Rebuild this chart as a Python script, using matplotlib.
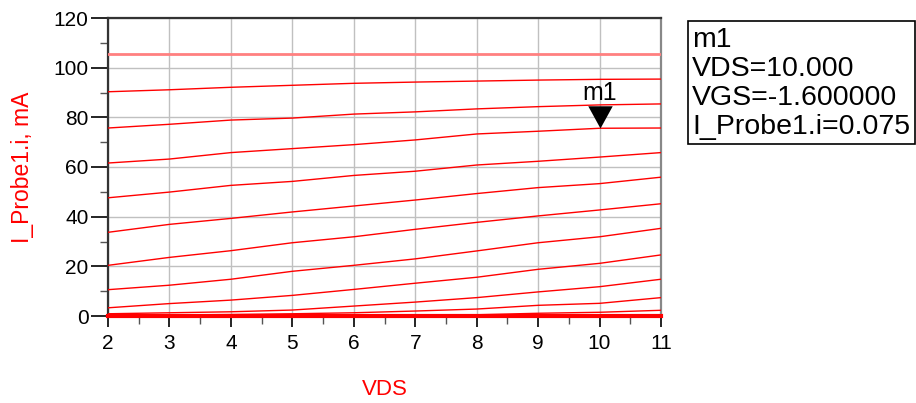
import matplotlib
matplotlib.use("Agg")
import matplotlib.pyplot as plt
from matplotlib.path import Path
import numpy as np

plt.rcParams['font.family'] = ['Liberation Sans', 'DejaVu Sans']

# ---- data (mA) ----
vds = [2, 3, 4, 5, 6, 7, 8, 9, 10, 11]
top_curve = [105.5, 105.5, 105.5, 105.5, 105.5, 105.5, 105.5, 105.5, 105.5, 105.5]
c1 = [90.3, 91.1, 92.1, 92.9, 93.7, 94.2, 94.6, 95.0, 95.3, 95.4]
c2 = [75.7, 77.2, 78.9, 79.7, 81.3, 82.2, 83.4, 84.3, 85.0, 85.4]
c3 = [61.6, 63.2, 65.8, 67.4, 69.0, 70.9, 73.3, 74.4, 75.6, 75.7]
c4 = [47.6, 49.9, 52.6, 54.2, 56.6, 58.3, 60.8, 62.3, 64.0, 65.8]
c5 = [33.7, 36.9, 39.3, 41.9, 44.3, 46.7, 49.3, 51.7, 53.3, 55.9]
c6 = [20.4, 23.6, 26.3, 29.5, 31.9, 34.9, 37.7, 40.3, 42.7, 45.2]
c7 = [10.6, 12.4, 14.8, 18.0, 20.4, 23.0, 26.2, 29.5, 31.9, 35.3]
c8 = [3.3, 5.0, 6.4, 8.3, 10.7, 13.2, 15.6, 18.8, 21.2, 24.6]
c9 = [0.9, 1.3, 1.7, 2.4, 4.0, 5.6, 7.4, 9.7, 11.8, 14.8]
c10 = [0.3, 0.4, 0.6, 0.9, 1.3, 2.0, 2.8, 4.3, 5.1, 7.4]
c11 = [0.05, 0.08, 0.1, 0.15, 0.2, 0.3, 0.5, 1.1, 1.5, 2.3]
c12 = [0, 0, 0, 0, 0, 0, 0, 0, 0, 0]
curves = [c1, c2, c3, c4, c5, c6, c7, c8, c9, c10, c11, c12]

marker_vds = 10.0
marker_vgs = -1.6
marker_i = 75.6
legend_lines = ["m1", "VDS=10.000", "VGS=-1.600000", "I_Probe1.i=0.075"]

xticks = [2, 3, 4, 5, 6, 7, 8, 9, 10, 11]
yticks = [0, 20, 40, 60, 80, 100, 120]

# ---- figure ----
fig = plt.figure(figsize=(9.16, 4.03), dpi=100)
ax = fig.add_axes([108/916, 1-316/403, (661-108)/916, (316-18)/403])

ax.set_xlim(2, 11)
ax.set_ylim(0, 120)

ax.plot(vds, top_curve, color='#ff8080', lw=2.0, zorder=3)
for c in curves:
    ax.plot(vds, c, color='#ff0000', lw=1.0, zorder=3)
ax.plot(vds, c12, color='#ff0000', lw=3.0, zorder=4, clip_on=False)

# marker
tri = Path([(0, 0), (-0.55, 1), (0.55, 1), (0, 0)],
           [Path.MOVETO, Path.LINETO, Path.LINETO, Path.CLOSEPOLY])
ax.plot([marker_vds], [marker_i], marker=tri, markersize=32, color='black',
        markeredgewidth=0, zorder=5, clip_on=False)
ax.annotate("m1", xy=(marker_vds, marker_i), xytext=(0, 17), textcoords='offset points',
            ha='center', va='bottom', fontsize=18, color='black', zorder=6)

# grid & ticks
ax.set_xticks(xticks)
ax.set_yticks(yticks)
ax.set_xticks(np.arange(2.5, 11, 1.0), minor=True)
ax.set_yticks(np.arange(10, 120, 20), minor=True)
ax.grid(True, which='major', color='#c0c0c0', lw=1.0, zorder=0)
ax.set_axisbelow(True)
ax.tick_params(axis='both', which='major', direction='out', length=8, width=1.2,
               labelsize=15, colors='black', pad=2)
ax.tick_params(axis='both', which='minor', direction='out', length=6, width=1.0,
               color='#555555')
ax.tick_params(axis='y', which='major', length=12)
ax.tick_params(axis='x', which='major', pad=5)
ax.set_xticklabels([str(t) for t in xticks])
ax.set_yticklabels([str(t) for t in yticks])

for s in ['left', 'top']:
    ax.spines[s].set_color('#333333')
    ax.spines[s].set_linewidth(1.6)
ax.spines['right'].set_color('#888888')
ax.spines['right'].set_linewidth(1.6)
ax.spines['bottom'].set_color('#333333')
ax.spines['bottom'].set_linewidth(1.2)

ax.set_xlabel("VDS", color='#ff0000', fontsize=16, labelpad=19)
ax.set_ylabel("I_Probe1.i, mA", color='#ff0000', fontsize=16.5, labelpad=14)

# marker readout box
fig.patches.append(plt.Rectangle((688/916, 1-144/403), (915-688)/916, (144-21)/403,
                                 transform=fig.transFigure, fill=False,
                                 edgecolor='black', lw=1.2))
for i, t in enumerate(legend_lines):
    fig.text(692/916, 1-(40+29*i)/403, t, fontsize=20.5, color='black',
             ha='left', va='center')

fig.savefig("out.png", dpi=100)
